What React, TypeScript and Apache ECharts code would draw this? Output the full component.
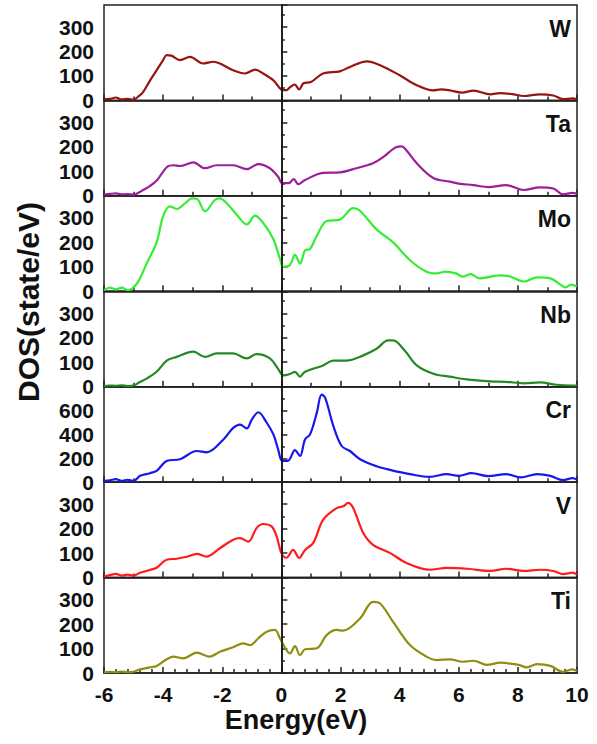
import React, { useEffect, useRef } from "react";
import * as echarts from "echarts";

const FONT = "'Liberation Sans', Arial, Helvetica, sans-serif";

const elements = ["W", "Ta", "Mo", "Nb", "Cr", "V", "Ti"];
const colors = ["#961414", "#9B1F9B", "#33EE33", "#238A23", "#1818EE", "#FF1C1C", "#8E8E12"];
const yMaxes = [390, 390, 390, 390, 800, 390, 390];
const yIntervals = [100, 100, 100, 100, 200, 100, 100];
const xTickLabels = ["-6", "-4", "-2", "0", "2", "4", "6", "8", "10"];

const energyW = [-6, -5.8, -5.6, -5.4, -5.2, -5.0, -4.85, -4.68, -4.45, -4.22, -4.0, -3.88, -3.72, -3.43, -3.09, -2.65, -2.3, -2.08, -1.63, -1.23, -0.89, -0.62, -0.27, 0.0, 0.17, 0.3, 0.45, 0.6, 0.75, 1.0, 1.41, 1.98, 2.32, 2.89, 3.34, 4.0, 4.58, 5.13, 5.4, 5.7, 6.1, 6.5, 7.07, 7.4, 7.8, 8.2, 8.75, 9.2, 9.53, 9.85, 10];
const dosW = [5, 6, 12, 4, 6, 3, 15, 34, 80, 123, 165, 185, 183, 165, 178, 151, 158, 151, 123, 110, 126, 110, 82, 45, 42, 55, 65, 45, 70, 75, 110, 119, 137, 160, 144, 103, 62, 41, 45, 41, 32, 40, 25, 30, 26, 18, 25, 20, 5, 8, 3];

const energyTa = [-6, -5.8, -5.6, -5.4, -5.2, -5.0, -4.85, -4.68, -4.45, -4.2, -3.87, -3.65, -3.43, -2.98, -2.58, -2.19, -1.63, -1.17, -0.78, -0.39, -0.11, 0.03, 0.25, 0.42, 0.57, 0.8, 1.41, 1.98, 2.54, 3.1, 3.44, 3.9, 4.05, 4.17, 4.58, 5.14, 5.7, 6.0, 6.49, 7.0, 7.6, 8.2, 8.75, 9.2, 9.53, 9.85, 10];
const dosTa = [5, 8, 10, 6, 7, 5, 12, 24, 40, 65, 118, 125, 122, 137, 113, 125, 125, 109, 130, 113, 78, 52, 52, 68, 48, 65, 94, 96, 113, 133, 158, 200, 202, 195, 133, 73, 58, 50, 44, 36, 44, 24, 35, 30, 6, 12, 8];

const energyMo = [-6, -5.8, -5.6, -5.4, -5.2, -5.06, -4.9, -4.78, -4.56, -4.22, -4.0, -3.77, -3.54, -3.25, -3.03, -2.86, -2.58, -2.25, -2.08, -1.85, -1.51, -1.17, -0.89, -0.62, -0.27, -0.05, 0.07, 0.29, 0.46, 0.63, 0.8, 0.97, 1.2, 1.53, 1.98, 2.43, 2.65, 3.22, 3.78, 4.35, 4.91, 5.25, 5.55, 5.9, 6.13, 6.4, 6.7, 7.4, 7.75, 8.2, 8.65, 9.1, 9.44, 9.6, 9.8, 10];
const dosMo = [5, 15, 8, 15, 5, 10, 30, 53, 113, 200, 307, 347, 337, 360, 380, 378, 327, 373, 380, 360, 313, 273, 309, 280, 213, 133, 100, 107, 150, 113, 167, 173, 227, 287, 293, 340, 330, 253, 200, 127, 80, 73, 80, 73, 60, 70, 53, 65, 60, 40, 57, 53, 27, 16, 27, 20];

const energyNb = [-6, -5.8, -5.6, -5.4, -5.2, -5.0, -4.8, -4.56, -4.22, -3.88, -3.54, -2.98, -2.58, -2.19, -1.63, -1.17, -0.84, -0.39, -0.11, 0.07, 0.29, 0.46, 0.63, 0.8, 1.41, 1.76, 2.2, 2.77, 3.22, 3.61, 3.78, 4.17, 4.58, 5.14, 5.7, 6.26, 7.07, 7.6, 8.2, 8.75, 9.3, 9.85, 10];
const dosNb = [3, 5, 4, 6, 3, 5, 18, 33, 61, 107, 122, 143, 122, 136, 136, 116, 133, 116, 73, 46, 52, 61, 41, 61, 87, 107, 107, 128, 155, 189, 189, 148, 87, 53, 41, 30, 22, 20, 14, 18, 8, 5, 5];

const energyCr = [-6, -5.8, -5.6, -5.4, -5.2, -5.0, -4.78, -4.45, -4.22, -3.88, -3.43, -2.86, -2.53, -1.96, -1.63, -1.4, -1.17, -1.0, -0.78, -0.5, -0.27, -0.11, 0.03, 0.22, 0.46, 0.63, 0.8, 0.97, 1.2, 1.36, 1.48, 1.76, 2.04, 2.32, 2.66, 3.22, 3.67, 4.35, 5.02, 5.59, 6.0, 6.43, 7.0, 7.6, 8.1, 8.65, 9.1, 9.53, 9.85, 10];
const dosCr = [10, 15, 25, 10, 20, 10, 53, 75, 94, 178, 192, 261, 250, 358, 455, 483, 450, 525, 586, 500, 400, 275, 178, 178, 269, 219, 358, 400, 583, 733, 708, 469, 303, 261, 192, 133, 103, 67, 44, 67, 53, 75, 50, 67, 40, 67, 53, 17, 33, 20];

const energyV = [-6, -5.8, -5.6, -5.4, -5.2, -5.0, -4.78, -4.45, -4.22, -3.88, -3.54, -3.2, -2.86, -2.53, -2.08, -1.63, -1.4, -1.12, -0.84, -0.62, -0.33, -0.16, 0.0, 0.17, 0.4, 0.6, 0.8, 1.08, 1.41, 1.87, 2.09, 2.26, 2.43, 2.77, 3.1, 3.67, 4.23, 5.02, 5.6, 6.3, 7.07, 7.6, 8.2, 8.75, 9.2, 9.53, 9.85, 10];
const dosV = [5, 10, 15, 8, 12, 8, 20, 31, 40, 73, 77, 85, 97, 86, 120, 155, 161, 147, 202, 219, 209, 168, 100, 81, 113, 80, 113, 142, 236, 284, 291, 305, 284, 182, 134, 101, 60, 32, 40, 36, 27, 36, 27, 32, 27, 14, 20, 12];

const energyTi = [-6, -5.8, -5.6, -5.4, -5.2, -5.0, -4.78, -4.45, -4.22, -3.88, -3.65, -3.32, -2.86, -2.42, -2.08, -1.63, -1.29, -1.06, -0.78, -0.5, -0.22, -0.05, 0.17, 0.29, 0.46, 0.63, 0.8, 1.2, 1.53, 1.87, 2.09, 2.66, 3.1, 3.33, 3.78, 4.35, 4.91, 5.25, 5.7, 6.13, 6.5, 6.95, 7.4, 8.03, 8.3, 8.65, 9.1, 9.53, 9.85, 10];
const dosTi = [3, 5, 3, 6, 3, 5, 15, 23, 29, 56, 67, 60, 83, 67, 87, 105, 121, 114, 142, 169, 176, 142, 94, 80, 110, 73, 97, 101, 155, 176, 173, 223, 291, 285, 209, 114, 67, 53, 56, 46, 50, 33, 42, 33, 23, 36, 29, 5, 15, 8];

const energies = [energyW, energyTa, energyMo, energyNb, energyCr, energyV, energyTi];
const doses = [dosW, dosTa, dosMo, dosNb, dosCr, dosV, dosTi];

export default function App() {
  const ref = useRef<HTMLDivElement>(null);

  useEffect(() => {
    if (!ref.current) return;
    const chart = echarts.init(ref.current, null, { renderer: "svg" });

    const plotTop = 5;
    const plotBottom = 673;
    const n = elements.length;
    const h = (plotBottom - plotTop) / n;
    const left = 104;
    const right = 20;

    const grids: any[] = [];
    const xAxes: any[] = [];
    const yAxes: any[] = [];
    const series: any[] = [];
    const titles: any[] = [];

    elements.forEach((el, i) => {
      const top = plotTop + i * h;
      const isBottom = i === n - 1;
      grids.push({
        left,
        right,
        top,
        height: h,
        show: true,
        borderColor: "#222",
        borderWidth: 1.5,
        backgroundColor: "transparent",
      });
      xAxes.push({
        type: "value",
        gridIndex: i,
        min: -6,
        max: 10,
        interval: 2,
        axisLine: { show: true, onZero: false, lineStyle: { color: "#222", width: 1.5 } },
        axisTick: { show: true, inside: true, length: 6, lineStyle: { color: "#222", width: 1.5 } },
        minorTick: { show: true, splitNumber: isBottom ? 5 : 2, length: 4, lineStyle: { color: "#222", width: 1.5 } },
        splitLine: { show: false },
        axisLabel: {
          show: isBottom,
          margin: 11,
          fontSize: 21,
          fontWeight: "bold",
          fontFamily: FONT,
          color: "#111",
          formatter: (v: number) => {
            const s = String(v);
            return xTickLabels.includes(s) ? s : "";
          },
        },
      });
      const iv = yIntervals[i];
      yAxes.push({
        type: "value",
        gridIndex: i,
        min: 0,
        max: yMaxes[i],
        interval: iv,
        axisLine: { show: true, lineStyle: { color: "#222", width: 1.5 } },
        axisTick: { show: true, inside: true, length: 6, lineStyle: { color: "#222", width: 1.5 } },
        minorTick: { show: true, splitNumber: 2, length: 3.5, lineStyle: { color: "#222", width: 1.5 } },
        splitLine: { show: false },
        axisLabel: {
          margin: 10,
          fontSize: 21,
          fontWeight: "bold",
          fontFamily: FONT,
          color: "#111",
          showMaxLabel: false,
          formatter: (v: number) => (v % iv === 0 ? String(v) : ""),
        },
      });
      series.push({
        type: "line",
        name: el,
        xAxisIndex: i,
        yAxisIndex: i,
        data: energies[i].map((e, k) => [e, doses[i][k]]),
        smooth: 0.35,
        showSymbol: false,
        symbol: "none",
        lineStyle: { color: colors[i], width: 2.2 },
        itemStyle: { color: colors[i] },
        markLine: {
          silent: true,
          symbol: "none",
          label: { show: false },
          lineStyle: { color: "#111", width: 1.5, type: "solid" },
          data: [{ xAxis: 0 }],
        },
      });
      titles.push({
        text: el,
        right: 26,
        top: top + 12,
        padding: 0,
        textStyle: { fontSize: 23, fontWeight: "bold", fontFamily: FONT, color: "#111" },
      });
    });

    chart.setOption({
      animation: false,
      backgroundColor: "#fff",
      title: titles,
      grid: grids,
      xAxis: xAxes,
      yAxis: yAxes,
      series,
      graphic: [
        {
          type: "text",
          x: 28,
          y: 302,
          rotation: Math.PI / 2,
          style: {
            text: "DOS(state/eV)",
            textAlign: "center",
            textVerticalAlign: "middle",
            fontSize: 30,
            fontWeight: "bold",
            fontFamily: FONT,
            fill: "#111",
          },
        },
        {
          type: "text",
          x: 296,
          y: 720,
          style: {
            text: "Energy(eV)",
            textAlign: "center",
            textVerticalAlign: "middle",
            fontSize: 27,
            fontWeight: "bold",
            fontFamily: FONT,
            fill: "#111",
          },
        },
      ],
    });

    return () => chart.dispose();
  }, []);

  return <div ref={ref} style={{ width: 597, height: 744, position: "absolute", left: 0, top: 0 }} />;
}
